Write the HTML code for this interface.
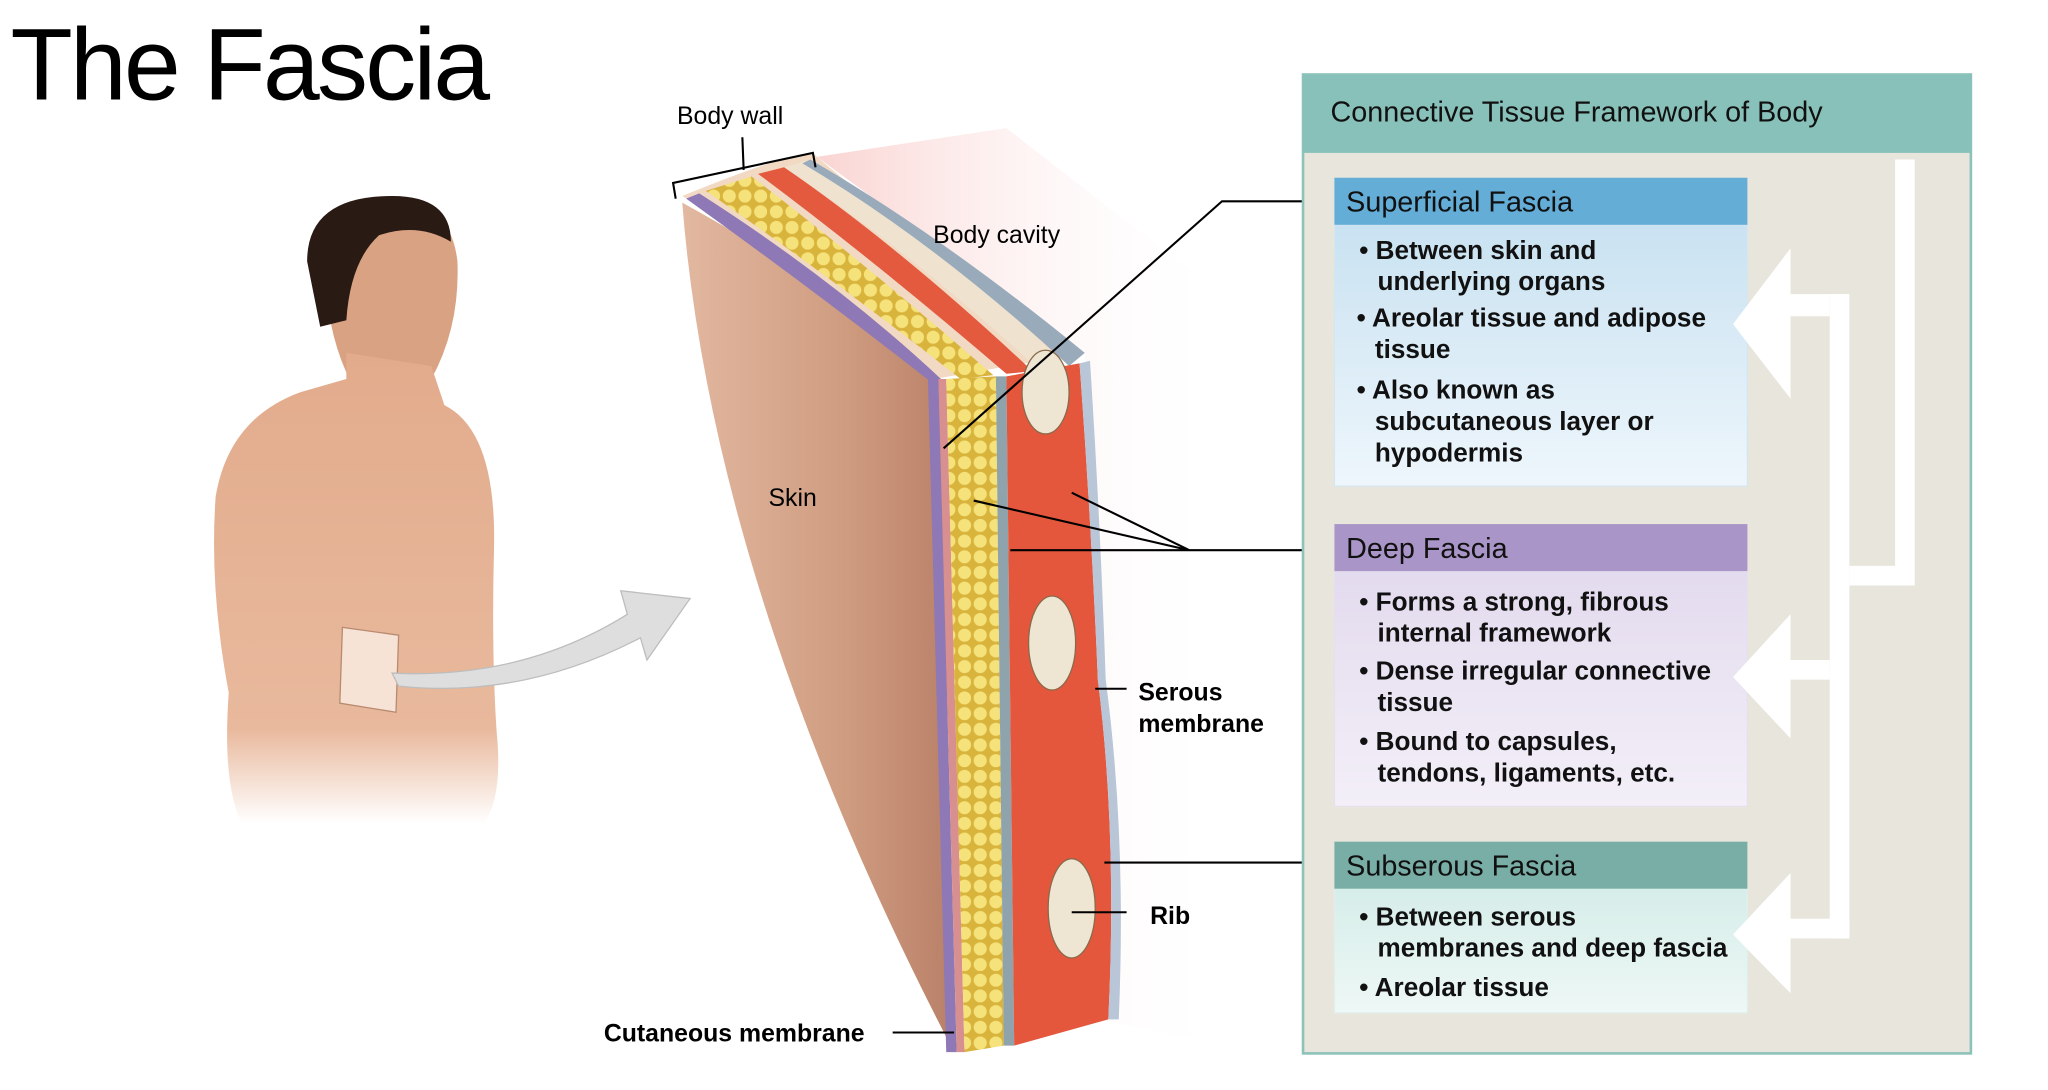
<!DOCTYPE html>
<html><head><meta charset="utf-8"><style>
html,body{margin:0;padding:0;background:#fff;overflow:hidden}
svg{display:block}
text{font-family:"Liberation Sans",Arial,sans-serif}
</style></head><body>
<svg width="2048" height="1090" viewBox="0 0 1567 834" preserveAspectRatio="none" xmlns="http://www.w3.org/2000/svg">
<defs>
<linearGradient id="gSup" x1="0" y1="0" x2="0" y2="1"><stop offset="0" stop-color="#c9e2f1"/><stop offset="1" stop-color="#eef6fc"/></linearGradient>
<linearGradient id="gDeep" x1="0" y1="0" x2="0" y2="1"><stop offset="0" stop-color="#e3dbee"/><stop offset="1" stop-color="#f3eff8"/></linearGradient>
<linearGradient id="gSub" x1="0" y1="0" x2="0" y2="1"><stop offset="0" stop-color="#d6ede9"/><stop offset="1" stop-color="#eef8f6"/></linearGradient>
<linearGradient id="gPink" x1="0" y1="0" x2="1" y2="0"><stop offset="0" stop-color="#f8c9c6"/><stop offset="1" stop-color="#fff" stop-opacity="0"/></linearGradient>
<linearGradient id="gSkin" x1="0" y1="0" x2="1" y2="0"><stop offset="0" stop-color="#e2b8a0"/><stop offset="0.6" stop-color="#cf9c80"/><stop offset="1" stop-color="#b98068"/></linearGradient>
<linearGradient id="gBody" x1="0" y1="0" x2="0" y2="1"><stop offset="0" stop-color="#e2ab8c"/><stop offset="0.8" stop-color="#e9b99d"/><stop offset="1" stop-color="#fff"/></linearGradient>
<pattern id="fat" width="12" height="12" patternUnits="userSpaceOnUse"><rect width="12" height="12" fill="#d9b43c"/><ellipse cx="6" cy="6" rx="5" ry="5" fill="#f5e27a"/></pattern>
</defs>

<text x="8" y="76" font-size="78" textLength="367" fill="#000">The Fascia</text>

<!-- man -->
<path d="M250 180 Q255 150 300 150 Q345 155 350 200 Q352 250 330 290 L300 300 L265 285 Q245 240 250 180Z" fill="#d9a282"/>
<path d="M235 200 Q235 150 300 150 Q345 150 345 185 Q320 170 290 180 Q268 200 265 245 L245 250 Z" fill="#2a1a14"/>
<path d="M265 270 L330 280 L340 310 Q380 330 378 420 Q376 500 380 560 Q385 610 370 630 L185 630 Q170 600 175 530 Q160 450 165 380 Q175 320 230 300 L265 290Z" fill="url(#gBody)"/>
<polygon points="262,480 305,486 303,545 260,538" fill="#f7e3d6" stroke="#b88a70"/>
<path d="M300 515 Q400 520 480 470 L475 452 L528 458 L495 505 L490 488 Q400 535 305 525Z" fill="#dedede" stroke="#bdbdbd"/>

<!-- pink glow -->
<path d="M625 120 L770 98 L940 230 L940 800 L840 780 L830 270Z" fill="url(#gPink)" opacity="0.8"/>

<!-- block front skin face -->
<path d="M522 155 Q545 450 730 805 L720 290 Q640 220 522 155Z" fill="url(#gSkin)"/>
<!-- top face -->
<path d="M522 150 Q620 110 625 120 Q720 200 830 270 L715 290 Q640 220 522 150Z" fill="#f1d9c4"/>
<path d="M525 152 Q620 220 712 292 L720 290 Q640 215 535 148Z" fill="#8e78b5"/>
<path d="M540 146 Q640 215 735 290 L760 287 Q660 200 575 135Z" fill="url(#fat)"/>
<path d="M580 133 Q670 200 770 286 L790 284 Q690 190 600 128Z" fill="#e45a3e"/>
<path d="M600 128 Q700 195 795 283 L815 280 Q720 180 620 122Z" fill="#efe3cf"/>
<path d="M620 122 Q720 180 830 270 L818 280 Q715 185 614 125Z" fill="#9ab" />
<!-- layers front -->
<path d="M710 290 L718 290 L732 805 L724 805Z" fill="#8e78b5"/>
<path d="M718 290 L724 290 L738 805 L732 805Z" fill="#d88f8f"/>
<path d="M724 290 L762 288 L768 800 L738 805Z" fill="url(#fat)"/>
<path d="M762 288 L770 288 L776 800 L768 800Z" fill="#8fa3ad"/>
<path d="M770 288 L826 278 Q835 400 840 520 Q855 640 848 780 L776 800Z" fill="#e4573c"/>
<path d="M826 278 L834 276 Q842 400 846 520 Q862 640 856 780 L848 780 Q855 640 840 520 Q835 400 826 278Z" fill="#b9c6d8"/>
<ellipse cx="800" cy="300" rx="18" ry="32" fill="#efe5d3" stroke="#8a6a4a"/>
<ellipse cx="805" cy="492" rx="18" ry="36" fill="#efe5d3" stroke="#8a6a4a"/>
<ellipse cx="820" cy="695" rx="18" ry="38" fill="#efe5d3" stroke="#8a6a4a"/>

<!-- leader lines -->
<g stroke="#000" stroke-width="1.6" fill="none">
<path d="M517 152 L515 140 L622 117 L624 128 M569 130 L568 105"/>
<path d="M1021 154 L935 154 L722 343"/>
<path d="M1021 421 L773 421 M910 421 L745 383 M910 421 L820 377"/>
<path d="M1021 660 L845 660"/>
<path d="M838 527 L862 527"/>
<path d="M820 698 L862 698"/>
<path d="M683 790 L730 790"/>
</g>
<g font-size="19" fill="#000">
<text x="518" y="95">Body wall</text>
<text x="714" y="186">Body cavity</text>
<text x="588" y="387">Skin</text>
<text x="871" y="536" font-weight="bold">Serous</text>
<text x="871" y="560" font-weight="bold">membrane</text>
<text x="880" y="707" font-weight="bold">Rib</text>
<text x="462" y="797" font-weight="bold">Cutaneous membrane</text>
</g>

<!-- right panel -->
<rect x="997" y="57" width="511" height="749" fill="#e8e6dc" stroke="#8dc2bb" stroke-width="2"/>
<rect x="997" y="57" width="511" height="60" fill="#88c1b9"/>
<text x="1018" y="93" font-size="22" fill="#111">Connective Tissue Framework of Body</text>

<rect x="1021" y="172" width="316" height="200" fill="url(#gSup)" stroke="#d5e6ef"/>
<rect x="1021" y="136" width="316" height="36" fill="#63add6"/>
<text x="1030" y="162" font-size="22" fill="#111">Superficial Fascia</text>
<rect x="1021" y="437" width="316" height="180" fill="url(#gDeep)" stroke="#e6e0ec"/>
<rect x="1021" y="401" width="316" height="36" fill="#a995c7"/>
<text x="1030" y="427" font-size="22" fill="#111">Deep Fascia</text>
<rect x="1021" y="680" width="316" height="95" fill="url(#gSub)" stroke="#e0efec"/>
<rect x="1021" y="644" width="316" height="36" fill="#79aea7"/>
<text x="1030" y="670" font-size="22" fill="#111">Subserous Fascia</text>

<!-- white arrows -->
<g fill="#fff">
<path d="M1450 122 L1465 122 L1465 448 L1415 448 L1415 433 L1450 433Z"/>
<rect x="1400" y="225" width="15" height="493"/>
<path d="M1400 225 L1370 225 L1370 190 L1326 248 L1370 305 L1370 242 L1400 242Z"/>
<path d="M1400 505 L1370 505 L1370 470 L1326 518 L1370 565 L1370 520 L1400 520Z"/>
<path d="M1415 703 L1370 703 L1370 668 L1326 715 L1370 760 L1370 718 L1415 718Z"/>
</g>

<g font-size="20" font-weight="bold" fill="#111">
<text x="1040" y="198">• Between skin and</text>
<text x="1054" y="222">underlying organs</text>
<text x="1038" y="250">• Areolar tissue and adipose</text>
<text x="1052" y="274">tissue</text>
<text x="1038" y="305">• Also known as</text>
<text x="1052" y="329">subcutaneous layer or</text>
<text x="1052" y="353">hypodermis</text>
<text x="1040" y="467">• Forms a strong, fibrous</text>
<text x="1054" y="491">internal framework</text>
<text x="1040" y="520">• Dense irregular connective</text>
<text x="1054" y="544">tissue</text>
<text x="1040" y="574">• Bound to capsules,</text>
<text x="1054" y="598">tendons, ligaments, etc.</text>
<text x="1040" y="708">• Between serous</text>
<text x="1054" y="732">membranes and deep fascia</text>
<text x="1040" y="762">• Areolar tissue</text>
</g>
</svg>
</body></html>
